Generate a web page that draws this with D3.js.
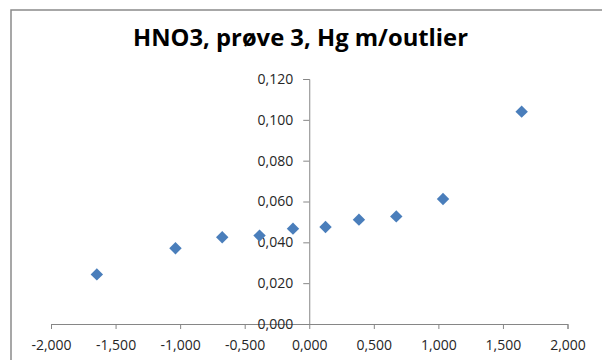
<!DOCTYPE html>
<html>
<head>
<meta charset="utf-8">
<script src="https://cdn.jsdelivr.net/npm/d3@7"></script>
<style>
  html, body { margin: 0; padding: 0; background: #fff; }
  svg { display: block; }
</style>
</head>
<body>
<svg id="chart" width="602" height="360"></svg>
<script>
const title = "HNO3, prøve 3, Hg m/outlier";
const xValues = [-1.645, -1.036, -0.674, -0.385, -0.126, 0.126, 0.385, 0.674, 1.036, 1.645];
const yValues = [0.0243, 0.0371, 0.0425, 0.0433, 0.0467, 0.0475, 0.0511, 0.0527, 0.0612, 0.1040];
const xTicks = [-2, -1.5, -1, -0.5, 0, 0.5, 1, 1.5, 2];
const yTicks = [0, 0.02, 0.04, 0.06, 0.08, 0.10, 0.12];

const fmt = v => d3.format(".3f")(v).replace(".", ",").replace("−", "-");

const svg = d3.select("#chart");

// chart frame
svg.append("rect")
  .attr("x", 11).attr("y", 10)
  .attr("width", 620).attr("height", 400)
  .attr("fill", "#fff")
  .attr("stroke", "#8a8a8a").attr("stroke-width", 1.5);

const x = d3.scaleLinear().domain([-2, 2]).range([51, 567.5]);
const y = d3.scaleLinear().domain([0, 0.12]).range([324, 79]);

const font = "'Open Sans', 'Liberation Sans', sans-serif";
const axisColor = "#868686";
const textColor = "#262626";

const xAxis = svg.append("g")
  .attr("transform", `translate(0,${y(0)})`)
  .call(d3.axisBottom(x).tickValues(xTicks).tickSize(5).tickPadding(11).tickFormat(fmt));
const yAxis = svg.append("g")
  .attr("transform", `translate(${x(0)},0)`)
  .call(d3.axisLeft(y).tickValues(yTicks).tickSize(6).tickPadding(10).tickFormat(fmt));

[xAxis, yAxis].forEach(g => {
  g.select(".domain").attr("stroke", axisColor).attr("stroke-width", 1);
  g.selectAll(".tick line").attr("stroke", axisColor).attr("stroke-width", 1);
  g.selectAll(".tick text")
    .attr("fill", textColor)
    .style("font-family", font)
    .style("font-size", "14px");
});
xAxis.selectAll(".tick text").attr("dy", "0.71em");

const diamond = d3.symbol().type(d3.symbolDiamond2).size(98);
svg.append("g").selectAll("path")
  .data(xValues.map((v, i) => [v, yValues[i]]))
  .join("path")
  .attr("transform", d => `translate(${x(d[0])},${y(d[1])})`)
  .attr("d", diamond)
  .attr("fill", "#4a7ebb");

const t = svg.append("text")
  .attr("x", 300.5).attr("y", 45.5)
  .attr("text-anchor", "middle")
  .attr("fill", "#000")
  .style("font-family", font)
  .style("font-weight", "bold")
  .style("font-size", "24px")
  .text(title);
const tw = t.node().getComputedTextLength();
t.style("font-size", (24 * 335 / tw).toFixed(2) + "px");
</script>
</body>
</html>
